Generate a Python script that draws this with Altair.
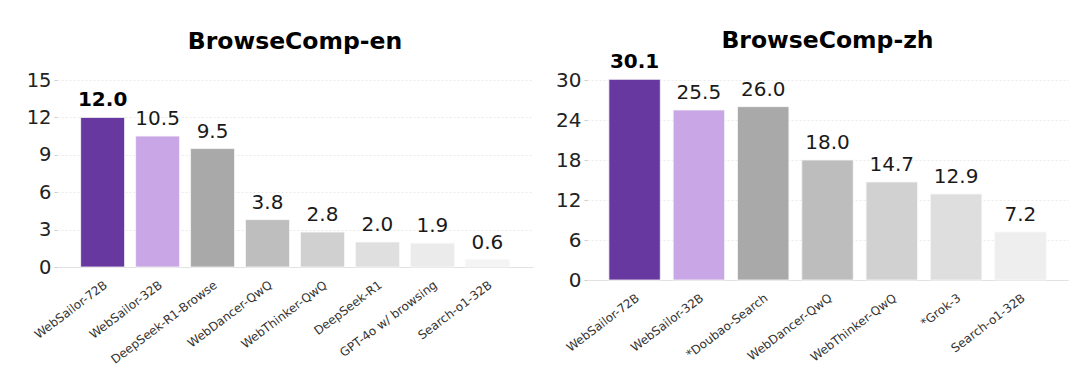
import altair as alt
import pandas as pd

en_models = ["WebSailor-72B", "WebSailor-32B", "DeepSeek-R1-Browse", "WebDancer-QwQ",
             "WebThinker-QwQ", "DeepSeek-R1", "GPT-4o w/ browsing", "Search-o1-32B"]
en_scores = [12.0, 10.5, 9.5, 3.8, 2.8, 2.0, 1.9, 0.6]
en_colors = ["#6739A0", "#C9A6E5", "#A9A9A9", "#BEBEBE", "#D0D0D0", "#DFDFDF", "#EBEBEB", "#F4F4F4"]

zh_models = ["WebSailor-72B", "WebSailor-32B", "*Doubao-Search", "WebDancer-QwQ",
             "WebThinker-QwQ", "*Grok-3", "Search-o1-32B"]
zh_scores = [30.1, 25.5, 26.0, 18.0, 14.7, 12.9, 7.2]
zh_colors = ["#6739A0", "#C9A6E5", "#A9A9A9", "#BDBDBD", "#D1D1D1", "#DEDEDE", "#EEEEEE"]

FONT = "DejaVu Sans"


def panel(models, scores, colors, title, ymax, step, width, height, tick_fs, val_fs, lab_fs,
          pad_outer, title_offset):
    df = pd.DataFrame({"model": models, "score": scores,
                       "label": [f"{s:.1f}" for s in scores],
                       "best": [i == 0 for i in range(len(models))]})
    x = alt.X("model:N", sort=models, title=None,
              scale=alt.Scale(paddingInner=0.2, paddingOuter=pad_outer),
              axis=alt.Axis(labelAngle=-37, labelAlign="right", labelBaseline="top",
                            labelFontSize=lab_fs, labelFont=FONT, labelColor="#333333",
                            labelPadding=12, ticks=False, domain=True, labelOverlap=False,
                            domainColor="#E2E2E2", domainWidth=1.2, grid=False))
    y = alt.Y("score:Q", title=None,
              scale=alt.Scale(domain=[0, ymax], nice=False),
              axis=alt.Axis(values=list(range(0, ymax + 1, step)), labelFontSize=tick_fs,
                            labelFont=FONT, labelColor="#222222", labelPadding=3,
                            labelOverlap=False, labelFlush=False,
                            tickSize=3, tickColor="#CCCCCC", domain=False,
                            grid=True, gridColor="#E6E6E6", gridDash=[2, 2], gridWidth=0.8))
    base = alt.Chart(df)
    bars = base.mark_bar(stroke="#F8F8F8", strokeWidth=0.8).encode(
        x=x, y=y,
        color=alt.Color("model:N", scale=alt.Scale(domain=models, range=colors), legend=None),
    )
    enc = dict(x=x, y=y, text="label:N")
    text_best = base.transform_filter("datum.best").mark_text(
        baseline="bottom", dy=-7, font=FONT, fontSize=val_fs, fontWeight="bold",
        color="#000000").encode(**enc)
    text_rest = base.transform_filter("!datum.best").mark_text(
        baseline="bottom", dy=-7, font=FONT, fontSize=val_fs,
        color="#1A1A1A").encode(**enc)
    return alt.layer(bars, text_best, text_rest).properties(
        width=width, height=height,
        title=alt.Title(title, font=FONT, fontSize=23.5, fontWeight="bold", color="#000000",
                        anchor="middle", offset=title_offset, frame="group"),
    )


left = panel(en_models, en_scores, en_colors, "BrowseComp-en", 15, 3,
             476, 187, 19.5, 20, 12, 0.43, 17)
right = panel(zh_models, zh_scores, zh_colors, "BrowseComp-zh", 30, 6,
              481, 200, 20, 20, 12, 0.34, 0)

chart = alt.hconcat(left, right, spacing=22).resolve_scale(color="independent").properties(
    padding={"left": 26, "top": 28, "right": 5, "bottom": 5},
    background="white",
).configure_view(stroke=None)

chart.save("out.html", embed_options={"renderer": "svg", "actions": False})
